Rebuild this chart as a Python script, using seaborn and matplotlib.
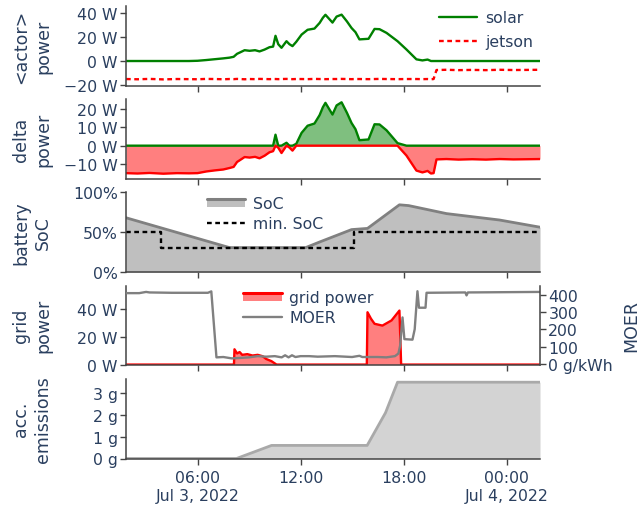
import numpy as np
import pandas as pd
import matplotlib
matplotlib.use("Agg")
import matplotlib.pyplot as plt
import seaborn as sns
from matplotlib.patches import Patch, Rectangle
from matplotlib.lines import Line2D
from matplotlib.legend_handler import HandlerBase

# ---------------- data (hours since 2022-07-03 00:00) ----------------
hours_power = [1.83, 2.5, 3.2, 4.0, 4.8, 5.5, 6.0, 6.5, 7.0, 7.5,
               7.86, 8.1, 8.3, 8.45, 8.74, 9.03, 9.35, 9.61, 9.9, 10.19,
               10.4, 10.54, 10.7, 10.89, 11.18, 11.35, 11.53, 11.75, 12.06, 12.41,
               12.81, 13.11, 13.3, 13.45, 13.86, 14.1, 14.39, 14.7, 14.97, 15.2,
               15.43, 15.96, 16.31, 16.6, 17.01, 17.65, 18.17, 18.75, 19.1, 19.4,
               19.6, 19.75, 19.92, 20.5, 21.2, 22.0, 22.8, 23.6, 24.4, 25.2,
               25.95]
solar = [0, 0, 0, 0, 0, 0, 0.2, 0.8, 1.5, 2.2,
         2.8, 3.5, 6, 7, 9, 8.5, 9, 8, 9.5, 11.5,
         12, 21, 14, 11, 16.5, 14, 12.4, 16, 22, 26,
         27, 31.7, 36, 38.5, 32, 37, 38.6, 33, 27.5, 24,
         18, 18.5, 26.7, 26.5, 23.4, 16.5, 9.6, 1.4, 0.5, 1.2,
         0, 0, 0, 0, 0, 0, 0, 0, 0, 0,
         0]
jetson = [-15.0, -15.2, -14.9, -15.3, -15.0, -15.1, -15.2, -14.9, -15.0, -15.2,
          -15.0, -15.1, -14.9, -15.0, -15.2, -15.0, -15.1, -14.9, -15.0, -15.1,
          -15.0, -15.0, -15.1, -15.0, -14.9, -15.0, -15.1, -15.0, -15.0, -15.1,
          -14.9, -15.0, -15.0, -15.1, -15.0, -15.0, -14.9, -15.0, -15.1, -15.0,
          -15.0, -15.1, -15.0, -14.9, -15.0, -15.1, -15.0, -15.0, -15.1, -15.0,
          -15.2, -15.0, -7.5, -7.3, -7.6, -7.4, -7.6, -7.3, -7.5, -7.4,
          -7.3]

hours_soc = [1.83, 7.86, 12.3, 13.11, 14.97, 15.9, 17.76, 18.3, 20.5, 23.59, 25.95]
soc = [67.8, 30.5, 30.5, 37.5, 53, 54.5, 84, 83, 73, 65, 56]
hours_minsoc = [1.83, 3.89, 15.14, 25.95]
min_soc = [50, 30, 50, 50]

hours_grid = [1.83, 8.12, 8.15, 8.3, 8.45, 8.6, 8.9, 9.2, 9.5, 9.79,
              10.0, 10.3, 10.6, 15.86, 15.9, 16.1, 16.31, 16.77, 17.3, 17.76,
              17.86, 25.95]
grid_power = [0, 0, 11, 8, 9, 7, 7.5, 6.5, 7, 6,
              4, 2.5, 0, 0, 37.6, 33, 29.3, 28, 31.7, 38.8,
              0, 0]

hours_moer = [1.83, 2.6, 3.0, 3.2, 4.5, 5.5, 6.6, 6.8, 7.1, 7.5,
              8.0, 8.5, 9.0, 9.5, 10.0, 10.5, 10.9, 11.1, 11.3, 11.5,
              11.7, 12.0, 12.5, 13.0, 14.0, 15.0, 15.43, 15.6, 16.5, 17.0,
              17.5, 17.7, 17.8, 17.94, 18.05, 18.52, 18.65, 18.81, 18.9, 19.28,
              19.34, 21.6, 21.67, 21.75, 25.95]
moer = [408, 408, 415, 412, 410, 410, 410, 418, 38, 40,
        32, 35, 38, 45, 42, 45, 38, 50, 38, 50,
        40, 45, 45, 42, 45, 40, 47, 40, 40, 38,
        45, 60, 105, 268, 143, 140, 200, 419, 324, 324,
        410, 412, 395, 412, 415]

hours_em = [1.83, 8.27, 10.31, 15.88, 16.95, 17.65, 25.95]
emissions = [0, 0, 0.6, 0.6, 2.1, 3.5, 3.5]

xtick_hours = [6, 12, 18, 24]
xtick_labels = ["06:00\nJul 3, 2022", "12:00", "18:00", "00:00\nJul 4, 2022"]

# ---------------- style ----------------
TXT = "#2a3f5f"
AX = "#444444"
FS = 11.3
sns.set_theme(style="ticks")
plt.rcParams.update({
    "font.family": ["DejaVu Sans"],
    "text.color": TXT,
    "axes.labelcolor": TXT,
    "axes.edgecolor": AX,
    "xtick.color": AX,
    "ytick.color": AX,
})

BASE = pd.Timestamp("2022-07-03")


def t(h):
    return BASE + pd.to_timedelta(np.asarray(h, dtype=float), unit="h")


W, H = 642, 510
fig = plt.figure(figsize=(W / 100, H / 100), dpi=100)
L, R = 126, 540


def add(top, bot):
    return fig.add_axes([L / W, 1 - bot / H, (R - L) / W, (bot - top) / H])


def style(ax, labels=False):
    for s in ["top", "right"]:
        ax.spines[s].set_visible(False)
    for s in ["left", "bottom"]:
        ax.spines[s].set_color(AX)
        ax.spines[s].set_linewidth(1.1)
    ax.tick_params(axis="both", direction="out", length=4, width=1, color=AX,
                   labelsize=FS, labelcolor=TXT, pad=2, bottom=True, left=True)
    ax.set_xlim(t(1.83), t(25.95))
    ax.set_xticks(t(xtick_hours))
    if labels:
        ax.set_xticklabels(xtick_labels, linespacing=1.25)
        ax.tick_params(axis="x", pad=4)
    else:
        ax.set_xticklabels([])
    ax.set_xlabel("")
    ax.set_ylabel("")


class FillHandler(HandlerBase):
    def create_artists(self, legend, orig, xd, yd, width, height, fontsize, trans):
        y0 = -yd + height * 0.05
        y1 = -yd + height * 0.8
        rect = Rectangle((-xd, y0), width, y1 - y0, facecolor=orig.get_facecolor(),
                         edgecolor="none", transform=trans)
        line = Line2D([-xd, -xd + width], [y1, y1], color=orig.get_edgecolor(),
                      lw=2.2, transform=trans)
        return [rect, line]


def ylabel(ax_top, ax_bot, text):
    yc = 1 - ((ax_top + ax_bot) / 2) / H
    fig.text(32 / W, yc, text, rotation=90, ha="center", va="center",
             fontsize=12.5, color=TXT, linespacing=1.3, multialignment="center")


LEG = dict(loc="upper left", frameon=False, fontsize=FS, handlelength=2.45,
           handletextpad=0.5, borderpad=0, borderaxespad=0, labelcolor=TXT)

tp = t(hours_power)

# ---- panel 1: actor power ----
ax1 = add(7, 87)
sns.lineplot(x=tp, y=solar, ax=ax1, color="green", lw=1.7, legend=False)
sns.lineplot(x=tp, y=jetson, ax=ax1, color="red", lw=1.7, ls=(0, (2, 1.5)), legend=False)
style(ax1)
ax1.set_ylim(-20.8, 45.8)
ax1.set_yticks([-20, 0, 20, 40])
ax1.set_yticklabels(["\u221220 W", "0 W", "20 W", "40 W"])
h1 = [Line2D([], [], color="green", lw=1.7),
      Line2D([], [], color="red", lw=1.7, ls=(0, (2, 1.5)))]
ax1.legend(h1, ["solar", "jetson"], bbox_to_anchor=(0.755, 0.945),
           labelspacing=0.55, **LEG)
ylabel(7, 87, "<actor>\npower")

# ---- panel 2: delta power ----
ax2 = add(100, 180)
delta = np.array(solar) + np.array(jetson)
pos = np.maximum(delta, 0)
neg = np.minimum(delta, 0)
ax2.fill_between(tp, pos, 0, color="green", alpha=0.5, lw=0)
sns.lineplot(x=tp, y=pos, ax=ax2, color="green", lw=1.7, legend=False)
ax2.fill_between(tp, neg, 0, color="red", alpha=0.5, lw=0)
sns.lineplot(x=tp, y=neg, ax=ax2, color="red", lw=1.7, legend=False)
style(ax2)
ax2.set_ylim(-18.2, 25.5)
ax2.set_yticks([-10, 0, 10, 20])
ax2.set_yticklabels(["\u221210 W", "0 W", "10 W", "20 W"])
ylabel(100, 180, "delta\npower")

# ---- panel 3: battery SoC ----
ax3 = add(193, 273)
ts = t(hours_soc)
ax3.fill_between(ts, soc, 0, color="#bfbfbf", lw=0)
sns.lineplot(x=ts, y=soc, ax=ax3, color="#808080", lw=2, legend=False)
sns.lineplot(x=t(hours_minsoc), y=min_soc, ax=ax3, color="black", lw=1.7,
             ls=(0, (2, 1.5)), drawstyle="steps-post", legend=False)
style(ax3)
ax3.set_ylim(0, 100)
ax3.set_yticks([0, 50, 100])
ax3.set_yticklabels(["0%", "50%", "100%"])
h3 = [Patch(facecolor="#bfbfbf", edgecolor="#808080"),
      Line2D([], [], color="black", lw=1.7, ls=(0, (2, 1.5)))]
ax3.legend(h3, ["SoC", "min. SoC"], bbox_to_anchor=(0.195, 0.955),
           labelspacing=0.35, handler_map={Patch: FillHandler()}, **LEG)
ylabel(193, 273, "battery\nSoC")

# ---- panel 4: grid power + MOER ----
ax4 = add(286.5, 366)
tg = t(hours_grid)
ax4.fill_between(tg, grid_power, 0, color="red", alpha=0.5, lw=0)
sns.lineplot(x=tg, y=grid_power, ax=ax4, color="red", lw=1.7, legend=False)
style(ax4)
ax4.set_ylim(-0.3, 56.8)
ax4.set_yticks([0, 20, 40])
ax4.set_yticklabels(["0 W", "20 W", "40 W"])
ax4r = ax4.twinx()
sns.lineplot(x=t(hours_moer), y=moer, ax=ax4r, color="#808080", lw=1.7, legend=False)
for s in ["top", "left", "bottom"]:
    ax4r.spines[s].set_visible(False)
ax4r.spines["right"].set_color(AX)
ax4r.spines["right"].set_linewidth(1.1)
ax4r.set_ylim(-6, 452)
ax4r.set_yticks([0, 100, 200, 300, 400])
ax4r.set_yticklabels(["0 g/kWh", "100", "200", "300", "400"])
ax4r.tick_params(axis="y", direction="out", length=4, width=1, color=AX,
                 labelsize=FS, labelcolor=TXT, pad=2, right=True)
ax4r.set_ylabel("")
ax4r.set_xlim(t(1.83), t(25.95))
h4 = [Patch(facecolor="#ff8080", edgecolor="red"),
      Line2D([], [], color="#808080", lw=1.7)]
ax4r.legend(h4, ["grid power", "MOER"], bbox_to_anchor=(0.283, 0.945),
            labelspacing=0.35, handler_map={Patch: FillHandler()}, **LEG)
ylabel(286.5, 366, "grid\npower")
fig.text(631 / W, 1 - 326 / H, "MOER", rotation=90, ha="center", va="center",
         fontsize=12.5, color=TXT)

# ---- panel 5: accumulated emissions ----
ax5 = add(379.5, 459.5)
te = t(hours_em)
ax5.fill_between(te, emissions, 0, color="#d3d3d3", lw=0)
sns.lineplot(x=te, y=emissions, ax=ax5, color="#a9a9a9", lw=2, legend=False)
style(ax5, labels=True)
ax5.set_ylim(0, 3.67)
ax5.set_yticks([0, 1, 2, 3])
ax5.set_yticklabels(["0 g", "1 g", "2 g", "3 g"])
ylabel(379.5, 459.5, "acc.\nemissions")

fig.savefig("out.png", dpi=100)
